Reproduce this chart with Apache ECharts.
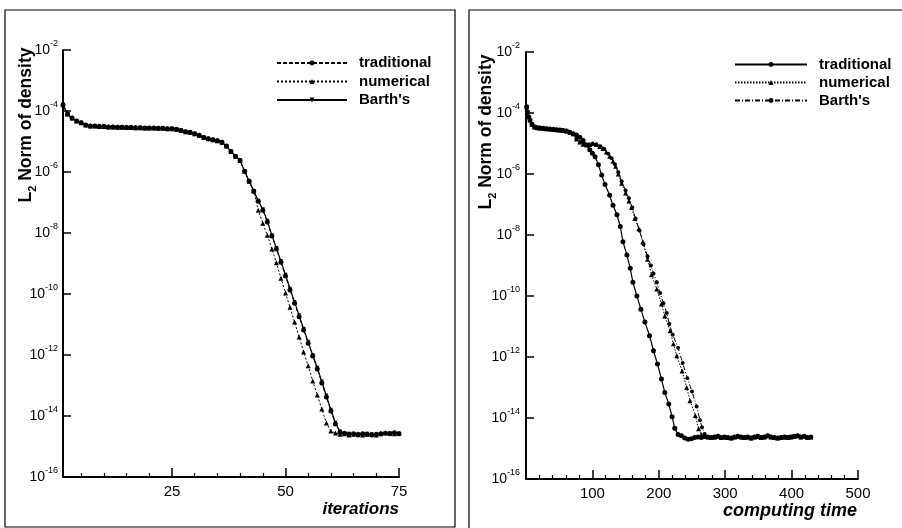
<!DOCTYPE html>
<html>
<head>
<meta charset="utf-8">
<script src="https://cdn.jsdelivr.net/npm/echarts@6/dist/echarts.min.js"></script>
<style>
html, body { margin: 0; padding: 0; background: #fff; }
#chart { width: 902px; height: 528px; }
</style>
</head>
<body>
<div id="chart"></div>
<script>
var FONT = '"Liberation Sans", Arial, sans-serif';

// ---- left panel: residual vs iterations ----
var iterations = [1, 2, 3, 4, 5, 6, 7, 8, 9, 10, 11, 12, 13, 14, 15, 16, 17, 18, 19, 20,
    21, 22, 23, 24, 25, 26, 27, 28, 29, 30, 31, 32, 33, 34, 35, 36, 37, 38, 39, 40,
    41, 42, 43, 44, 45, 46, 47, 48, 49, 50, 51, 52, 53, 54, 55, 56, 57, 58, 59, 60,
    61, 62, 63, 64, 65, 66, 67, 68, 69, 70, 71, 72, 73, 74, 75];
// iterations 1..43, all three schemes identical
var leftCommon = [1.6e-4, 7.9e-5, 5.9e-5, 4.7e-5, 4.1e-5, 3.5e-5, 3.2e-5, 3.2e-5, 3.1e-5, 3.1e-5,
    3.0e-5, 3.0e-5, 2.95e-5, 2.95e-5, 2.9e-5, 2.9e-5, 2.8e-5, 2.8e-5, 2.75e-5, 2.75e-5,
    2.75e-5, 2.7e-5, 2.7e-5, 2.6e-5, 2.6e-5, 2.5e-5, 2.3e-5, 2.1e-5, 2.0e-5, 1.8e-5,
    1.6e-5, 1.35e-5, 1.23e-5, 1.15e-5, 1.05e-5, 9.5e-6, 7.1e-6, 4.7e-6, 3.3e-6, 2.4e-6,
    1.05e-6, 5.0e-7, 2.4e-7];
// iterations 44..75
var leftTradTail = [1.1e-7, 5.6e-8, 2.3e-8, 7.9e-9, 3.0e-9, 1.1e-9, 3.9e-10, 1.35e-10, 5.0e-11, 1.8e-11,
    6.6e-12, 2.45e-12, 9.3e-13, 3.5e-13, 1.2e-13, 4.2e-14, 1.45e-14, 5.5e-15, 3.0e-15, 2.7e-15,
    2.5e-15, 2.6e-15, 2.4e-15, 2.6e-15, 2.5e-15, 2.4e-15, 2.5e-15, 2.6e-15, 2.7e-15, 2.6e-15,
    2.8e-15, 2.6e-15];
var leftNumTail = [5.6e-8, 2.1e-8, 8.5e-9, 3.0e-9, 1.05e-9, 3.3e-10, 1.07e-10, 3.7e-11, 1.2e-11, 3.9e-12,
    1.26e-12, 4.4e-13, 1.4e-13, 4.9e-14, 1.7e-14, 5.9e-15, 3.2e-15, 2.75e-15, 2.5e-15, 2.6e-15,
    2.4e-15, 2.5e-15, 2.6e-15, 2.4e-15, 2.5e-15, 2.5e-15, 2.4e-15, 2.6e-15, 2.8e-15, 2.7e-15,
    2.6e-15, 2.7e-15];
var leftBarthTail = [1.15e-7, 6.0e-8, 2.5e-8, 8.5e-9, 3.2e-9, 1.2e-9, 4.3e-10, 1.5e-10, 5.5e-11, 2.0e-11,
    7.2e-12, 2.7e-12, 1.0e-12, 3.8e-13, 1.35e-13, 4.7e-14, 1.6e-14, 6.0e-15, 3.1e-15, 2.6e-15,
    2.6e-15, 2.5e-15, 2.5e-15, 2.5e-15, 2.6e-15, 2.5e-15, 2.4e-15, 2.5e-15, 2.6e-15, 2.7e-15,
    2.7e-15, 2.6e-15];
var iterLabels = [25, 50, 75];
var iterMinorTicks = [5, 10, 15, 20, 30, 35, 40, 45, 55, 60, 65, 70];

// ---- right panel: residual vs computing time ----
var rStartTime = [1, 2, 4, 6, 9, 13, 17, 21, 26, 31, 36, 41, 46, 51, 56, 61, 66, 71];
var rStartVal = [1.6e-4, 1.1e-4, 7.5e-5, 5.9e-5, 4.3e-5, 3.5e-5, 3.3e-5, 3.2e-5, 3.15e-5, 3.05e-5,
    3.0e-5, 2.95e-5, 2.85e-5, 2.75e-5, 2.65e-5, 2.55e-5, 2.35e-5, 2.1e-5];

var rTradTime = [76, 81, 86, 91, 96, 100, 104, 109, 114, 119, 126, 131, 137, 142, 146, 152, 157, 161, 167, 173,
    179, 186, 192, 198, 204, 209, 215, 220, 224];
var rTradVal = [1.9e-5, 1.6e-5, 1.25e-5, 8.9e-6, 6.2e-6, 4.8e-6, 3.7e-6, 2.0e-6, 9.3e-7, 4.5e-7,
    2.0e-7, 9.5e-8, 4.6e-8, 1.9e-8, 6.0e-9, 2.2e-9, 8.1e-10, 2.8e-10, 1.0e-10, 3.7e-11,
    1.4e-11, 5.0e-12, 1.6e-12, 5.9e-13, 1.9e-13, 6.9e-14, 2.9e-14, 1.1e-14, 4.6e-15];

var rNumTime = [76, 81, 86, 91, 96, 101, 106, 111, 116, 121, 126, 131, 135, 139, 144, 150, 155, 159, 164, 170,
    176, 183, 189, 197, 204, 209, 217, 222, 227, 235, 242, 247, 255, 260, 264];
var rNumVal = [1.4e-5, 1.12e-5, 9.5e-6, 9.1e-6, 9.3e-6, 1.0e-5, 9.3e-6, 7.9e-6, 6.9e-6, 5.3e-6,
    3.8e-6, 2.6e-6, 1.8e-6, 1.0e-6, 5.0e-7, 2.4e-7, 1.3e-7, 8.0e-8, 3.5e-8, 1.6e-8,
    6.0e-9, 1.6e-9, 5.0e-10, 1.7e-10, 5.5e-11, 2.2e-11, 7.2e-12, 2.7e-12, 1.1e-12, 3.5e-13,
    1.0e-13, 3.7e-14, 1.2e-14, 4.4e-15, 2.9e-15];

var rBarthTime = [76, 82, 88, 94, 100, 106, 112, 118, 124, 129, 134, 139, 144, 150, 155, 160, 165, 171, 177, 183,
    188, 192, 197, 202, 207, 212, 216, 221, 229, 236, 243, 250, 257, 262, 265, 269];
var rBarthVal = [1.45e-5, 1.1e-5, 9.6e-6, 9.2e-6, 9.8e-6, 9.5e-6, 8.2e-6, 6.6e-6, 4.6e-6, 3.3e-6,
    2.1e-6, 1.15e-6, 5.8e-7, 2.9e-7, 1.6e-7, 7.9e-8, 3.5e-8, 1.4e-8, 5.0e-9, 2.0e-9,
    1.0e-9, 5.5e-10, 2.8e-10, 1.26e-10, 5.8e-11, 2.75e-11, 1.2e-11, 5.4e-12, 2.0e-12, 6.3e-13,
    2.0e-13, 7.4e-14, 2.4e-14, 8.5e-15, 5.0e-15, 3.0e-15];

// machine-zero floor shared by all three runs
var rFloorTime = [229, 234, 239, 244, 249, 254, 259, 264, 269, 274, 279, 284, 289, 294, 299, 304, 309, 314, 319, 324,
    329, 334, 339, 344, 349, 354, 359, 364, 369, 374, 379, 384, 389, 394, 399, 404, 409, 414, 419, 424, 429];
var rFloorVal = [2.9e-15, 2.6e-15, 2.2e-15, 2.0e-15, 2.1e-15, 2.3e-15, 2.4e-15, 2.3e-15, 2.5e-15, 2.4e-15,
    2.3e-15, 2.4e-15, 2.5e-15, 2.3e-15, 2.4e-15, 2.3e-15, 2.2e-15, 2.4e-15, 2.5e-15, 2.4e-15,
    2.3e-15, 2.4e-15, 2.2e-15, 2.4e-15, 2.5e-15, 2.3e-15, 2.4e-15, 2.6e-15, 2.4e-15, 2.3e-15,
    2.2e-15, 2.3e-15, 2.4e-15, 2.3e-15, 2.4e-15, 2.5e-15, 2.6e-15, 2.4e-15, 2.5e-15, 2.3e-15, 2.4e-15];

var seriesNames = ['traditional', 'numerical', "Barth's"];

function zip(xs, ys) {
    var out = [];
    for (var i = 0; i < xs.length; i++) out.push([xs[i], ys[i]]);
    return out;
}
// start + own drop + floor points after the drop ends
function rightRun(times, vals) {
    var pts = zip(rStartTime, rStartVal).concat(zip(times, vals));
    var last = times[times.length - 1];
    for (var i = 0; i < rFloorTime.length; i++) {
        if (rFloorTime[i] > last) pts.push([rFloorTime[i], rFloorVal[i]]);
    }
    return pts;
}

function powLabel(v) {
    var e = Math.round(Math.log(v) / Math.LN10);
    return '{b|10}{s|' + e + '}';
}

var yLabelRich = {
    b: { fontFamily: FONT, fontSize: 14, color: '#000', lineHeight: 21, verticalAlign: 'middle' },
    s: { fontFamily: FONT, fontSize: 9, color: '#000', verticalAlign: 'top' }
};

function yAxisFor(grid, margin) {
    return {
        type: 'log', gridIndex: grid, logBase: 10,
        min: 1e-16, max: 1e-2, interval: 2,
        axisLine: { show: true, lineStyle: { color: '#000', width: 2 } },
        axisTick: { show: true, inside: true, length: 8, lineStyle: { color: '#000', width: 1.5 } },
        axisLabel: { formatter: powLabel, margin: margin, rich: yLabelRich },
        splitLine: { show: false },
        minorTick: { show: false }
    };
}

function yTitle(x, y) {
    return {
        type: 'text', x: x, y: y, rotation: Math.PI / 2, silent: true,
        style: {
            text: '{l|L}{sub|2}{l| Norm of density}',
            align: 'center', verticalAlign: 'middle',
            rich: {
                l: { fontFamily: FONT, fontSize: 17.5, fontWeight: 'bold', fill: '#000', lineHeight: 24, verticalAlign: 'middle' },
                sub: { fontFamily: FONT, fontSize: 11, fontWeight: 'bold', fill: '#000', verticalAlign: 'bottom' }
            }
        }
    };
}

var legendText = { fontFamily: FONT, fontSize: 15, fontWeight: 'bold', color: '#000', lineHeight: 15, padding: [0, 0, 0, 7] };

var chart = echarts.init(document.getElementById('chart'));
var option = {
    backgroundColor: '#fff',
    animation: false,
    grid: [
        { left: 63, top: 50, width: 336, height: 427, outerBoundsMode: 'none' },
        { left: 526, top: 52, width: 332, height: 427, outerBoundsMode: 'none' }
    ],
    xAxis: [
        {
            type: 'value', gridIndex: 0, min: 1, max: 75, position: 'bottom',
            axisLine: { onZero: false, lineStyle: { color: '#000', width: 2 } },
            axisTick: { inside: true, length: 9, customValues: iterLabels, lineStyle: { color: '#000', width: 1.5 } },
            axisLabel: { customValues: iterLabels, fontFamily: FONT, fontSize: 15, color: '#000', margin: 7 },
            splitLine: { show: false }
        },
        {
            type: 'value', gridIndex: 0, min: 1, max: 75, position: 'bottom', offset: 0,
            axisLine: { show: false, onZero: false },
            axisTick: { inside: true, length: 4, customValues: iterMinorTicks, lineStyle: { color: '#000', width: 1.2 } },
            axisLabel: { show: false },
            splitLine: { show: false }
        },
        {
            type: 'value', gridIndex: 1, min: 0, max: 500, interval: 100, position: 'bottom',
            axisLine: { onZero: false, lineStyle: { color: '#000', width: 2 } },
            axisTick: { inside: true, length: 9, lineStyle: { color: '#000', width: 1.5 } },
            minorTick: { show: true, splitNumber: 5, length: 4, lineStyle: { color: '#000', width: 1.2 } },
            axisLabel: { showMinLabel: false, fontFamily: FONT, fontSize: 15, color: '#000', margin: 7 },
            splitLine: { show: false }
        }
    ],
    yAxis: [yAxisFor(0, 5), yAxisFor(1, 6)],
    legend: [
        {
            left: 271, top: 50.5, orient: 'vertical', selectedMode: false,
            itemWidth: 70, itemHeight: 6, itemGap: 3.5,
            data: seriesNames, textStyle: legendText
        },
        {
            left: 729, top: 52, orient: 'vertical', selectedMode: false,
            itemWidth: 72, itemHeight: 6, itemGap: 3,
            data: ['traditional ', 'numerical ', "Barth's "],
            formatter: function (n) { return n.trim(); },
            textStyle: legendText
        }
    ],
    graphic: [
        { type: 'rect', silent: true, shape: { x: 5, y: 10, width: 450, height: 517 }, style: { fill: 'none', stroke: '#000', lineWidth: 1.2 } },
        { type: 'rect', silent: true, shape: { x: 469, y: 10, width: 440, height: 540 }, style: { fill: 'none', stroke: '#000', lineWidth: 1.2 } },
        yTitle(26, 125),
        yTitle(486, 132),
        { type: 'text', x: 399, y: 509, silent: true, style: { text: 'iterations', font: 'italic bold 17px ' + FONT, fill: '#000', align: 'right', verticalAlign: 'middle' } },
        { type: 'text', x: 857, y: 511, silent: true, style: { text: 'computing time', font: 'italic bold 18px ' + FONT, fill: '#000', align: 'right', verticalAlign: 'middle' } }
    ],
    series: [
        {
            name: 'traditional', type: 'line', xAxisIndex: 0, yAxisIndex: 0,
            data: zip(iterations, leftCommon.concat(leftTradTail)),
            symbol: 'circle', symbolSize: 5,
            lineStyle: { color: '#000', width: 1, type: [4, 2] },
            itemStyle: { color: '#000' }
        },
        {
            name: 'numerical', type: 'line', xAxisIndex: 0, yAxisIndex: 0,
            data: zip(iterations, leftCommon.concat(leftNumTail)),
            symbol: 'triangle', symbolSize: 5,
            lineStyle: { color: '#000', width: 1, type: [2, 2] },
            itemStyle: { color: '#000' }
        },
        {
            name: "Barth's", type: 'line', xAxisIndex: 0, yAxisIndex: 0,
            data: zip(iterations, leftCommon.concat(leftBarthTail)),
            symbol: 'triangle', symbolRotate: 180, symbolSize: 4,
            lineStyle: { color: '#000', width: 1.2 },
            itemStyle: { color: '#000' }
        },
        {
            name: 'traditional ', type: 'line', xAxisIndex: 2, yAxisIndex: 1,
            data: rightRun(rTradTime, rTradVal),
            symbol: 'circle', symbolSize: 5,
            lineStyle: { color: '#000', width: 1.2 },
            itemStyle: { color: '#000' }
        },
        {
            name: 'numerical ', type: 'line', xAxisIndex: 2, yAxisIndex: 1,
            data: rightRun(rNumTime, rNumVal),
            symbol: 'triangle', symbolSize: 5,
            lineStyle: { color: '#000', width: 1, type: [1.5, 1.5] },
            itemStyle: { color: '#000' }
        },
        {
            name: "Barth's ", type: 'line', xAxisIndex: 2, yAxisIndex: 1,
            data: rightRun(rBarthTime, rBarthVal),
            symbol: 'circle', symbolSize: 4,
            lineStyle: { color: '#000', width: 1, type: [5, 2, 1, 2] },
            itemStyle: { color: '#000' }
        }
    ]
};
chart.setOption(option);
</script>
</body>
</html>
